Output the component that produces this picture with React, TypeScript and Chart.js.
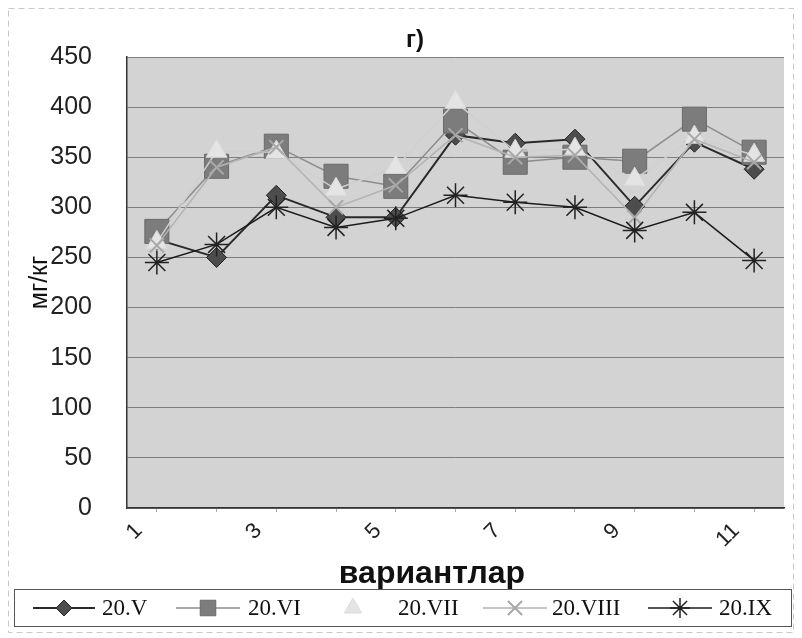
import React, { useEffect, useRef } from "react";
import { Chart, registerables } from "chart.js";
import { drawPoint } from "chart.js/helpers";

Chart.register(...registerables);

const categories = ["1", "2", "3", "4", "5", "6", "7", "8", "9", "10", "11"];
const seriesNames = ["20.V", "20.VI", "20.VII", "20.VIII", "20.IX"];
const v20V = [268, 250, 312, 290, 290, 372, 364, 368, 301, 365, 338];
const v20VI = [276, 341, 361, 331, 321, 386, 345, 350, 346, 388, 355];
const v20VII = [265, 356, 355, 318, 340, 405, 356, 358, 328, 370, 352];
const v20VIII = [262, 340, 360, 300, 322, 372, 350, 352, 290, 368, 345];
const v20IX = [245, 263, 300, 280, 289, 312, 305, 300, 277, 295, 247];
const yMin = 0;
const yMax = 450;
const yStep = 50;
const chartTitle = "г)";
const xTitle = "вариантлар";
const yTitle = "мг/кг";

const SANS = "'Liberation Sans', Arial, sans-serif";
const SERIF = "'Liberation Serif', 'Times New Roman', serif";

const styles = [
  { line: "#2a2a2a", lw: 2, fill: "#4d4d4d", stroke: "#222", ps: "rectRot", r: 10, bw: 1 },
  { line: "#8c8c8c", lw: 1.5, fill: "#7c7c7c", stroke: "#6a6a6a", ps: "rect", r: 17, bw: 1 },
  { line: "#d0d0d0", lw: 1.5, fill: "#e4e4e4", stroke: "#dcdcdc", ps: "triangle", r: 12, bw: 1 },
  { line: "#b3b3b3", lw: 1.5, fill: "#b0b0b0", stroke: "#a8a8a8", ps: "crossRot", r: 10, bw: 2 },
  { line: "#1c1c1c", lw: 1.5, fill: "#222", stroke: "#222", ps: "star", r: 12, bw: 1.5 },
];

const legendLayout = [
  { x0: 33, x1: 95, tx: 102 },
  { x0: 176, x1: 240, tx: 248 },
  { x0: 322, x1: 384, tx: 398, noLine: true },
  { x0: 483, x1: 547, tx: 552 },
  { x0: 648, x1: 712, tx: 719 },
];

const bgPlugin = {
  id: "plotBg",
  beforeDraw(chart: any) {
    const { ctx, chartArea, width, height } = chart;
    ctx.save();
    ctx.fillStyle = "#ffffff";
    ctx.fillRect(0, 0, width, height);
    ctx.fillStyle = "#d3d3d3";
    ctx.fillRect(chartArea.left, chartArea.top, chartArea.right - chartArea.left, chartArea.bottom - chartArea.top);
    ctx.strokeStyle = "#c8c8c8";
    ctx.setLineDash([6, 4]);
    ctx.lineWidth = 1;
    ctx.strokeRect(8.5, 8.5, width - 17, height - 14);
    ctx.restore();
  },
};

const textPlugin = {
  id: "titles",
  afterDraw(chart: any) {
    const { ctx } = chart;
    ctx.save();
    ctx.fillStyle = "#111";
    ctx.textAlign = "center";
    ctx.textBaseline = "middle";
    ctx.font = `bold 24px ${SANS}`;
    ctx.fillText(chartTitle, 415, 40);
    ctx.font = `bold 32px ${SANS}`;
    ctx.fillText(xTitle, 432, 574);
    ctx.restore();
  },
};

const boxLegendPlugin = {
  id: "boxLegend",
  afterDraw(chart: any) {
    const { ctx } = chart;
    ctx.save();
    ctx.strokeStyle = "#555";
    ctx.lineWidth = 1;
    ctx.setLineDash([]);
    ctx.strokeRect(14.5, 589.5, 777, 37);
    const y = 608;
    chart.data.datasets.forEach((ds: any, i: number) => {
      const L = legendLayout[i];
      const s = styles[i];
      if (!L.noLine) {
        ctx.strokeStyle = s.line;
        ctx.lineWidth = s.lw;
        ctx.beginPath();
        ctx.moveTo(L.x0, y);
        ctx.lineTo(L.x1, y);
        ctx.stroke();
      }
      ctx.fillStyle = s.fill;
      ctx.strokeStyle = s.stroke;
      ctx.lineWidth = s.bw;
      const lr = s.ps === "rect" ? 11 : s.ps === "rectRot" ? 8 : 10;
      drawPoint(ctx, { pointStyle: s.ps, radius: lr, rotation: 0, borderWidth: s.bw }, (L.x0 + L.x1) / 2, y);
      ctx.fillStyle = "#111";
      ctx.font = `23px ${SERIF}`;
      ctx.textBaseline = "middle";
      ctx.textAlign = "left";
      ctx.fillText(ds.label, L.tx, y + 1);
    });
    ctx.restore();
  },
};

export default function App() {
  const ref = useRef<HTMLCanvasElement | null>(null);
  useEffect(() => {
    document.body.style.margin = "0";
    const seriesData = [v20V, v20VI, v20VII, v20VIII, v20IX];
    const chart = new Chart(ref.current as HTMLCanvasElement, {
      type: "line",
      data: {
        labels: categories,
        datasets: seriesData.map((d, i) => ({
          label: seriesNames[i],
          data: d,
          borderColor: styles[i].line,
          borderWidth: styles[i].lw,
          pointStyle: styles[i].ps as any,
          pointRadius: styles[i].r,
          pointBackgroundColor: styles[i].fill,
          pointBorderColor: styles[i].stroke,
          pointBorderWidth: styles[i].bw,
          tension: 0,
          fill: false,
          order: 4 - i,
        })),
      },
      options: {
        animation: false,
        responsive: false,
        events: [],
        layout: { padding: { left: 0, right: 17, top: 57, bottom: 50 } },
        plugins: {
          legend: { display: false },
          tooltip: { enabled: false },
          title: { display: false },
        },
        scales: {
          x: {
            offset: true,
            grid: { display: true, drawOnChartArea: false, tickLength: 4, color: "#aaa" },
            border: { display: true, color: "#333", width: 1.5 },
            ticks: {
              autoSkip: false,
              minRotation: 45,
              maxRotation: 45,
              padding: 6,
              labelOffset: -18,
              color: "#222",
              font: { family: SANS, size: 22 },
              callback: (_v: any, i: number) => (i % 2 === 0 ? categories[i] : ""),
            },
            title: { display: false },
            afterFit: (s: any) => {
              s.height = 80;
            },
          },
          y: {
            min: yMin,
            max: yMax,
            ticks: { stepSize: yStep, padding: 35, color: "#222", font: { family: SANS, size: 25 } },
            grid: { color: "#7e7e7e", drawTicks: false, lineWidth: 1 },
            border: { display: true, color: "#333", width: 1.5 },
            title: {
              display: true,
              text: yTitle,
              color: "#111",
              font: { family: SANS, size: 25 },
              padding: { top: 25, bottom: 0 },
            },
            afterFit: (s: any) => {
              s.width = 127;
            },
          },
        },
      },
      plugins: [bgPlugin, textPlugin, boxLegendPlugin],
    });
    return () => chart.destroy();
  }, []);
  return (
    <div style={{ width: 802, height: 638 }}>
      <canvas ref={ref} width={802} height={638} style={{ display: "block" }} />
    </div>
  );
}
